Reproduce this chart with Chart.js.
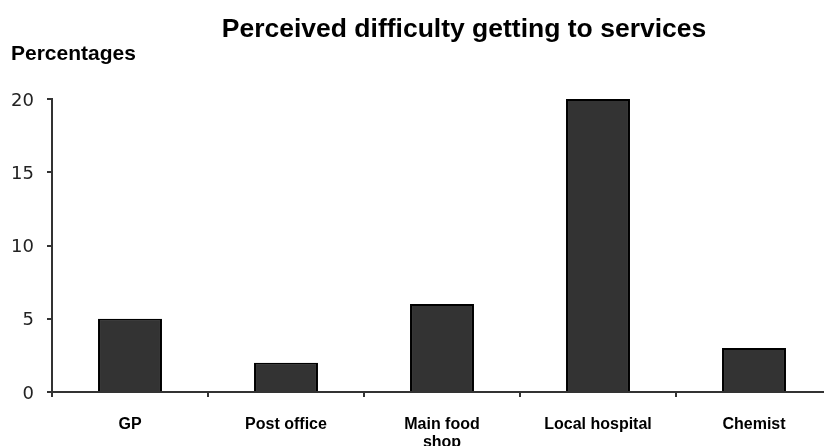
<!DOCTYPE html>
<html>
<head>
<meta charset="utf-8">
<script src="https://cdn.jsdelivr.net/npm/chart.js@4/dist/chart.umd.min.js"></script>
<style>
  html, body { margin: 0; padding: 0; background: #fff; overflow: hidden; }
  #wrap { width: 824px; height: 446px; overflow: hidden; }
  canvas { display: block; }
</style>
</head>
<body>
<div id="wrap"><canvas id="c" width="840" height="446"></canvas></div>
<script>
// Services and the share of people reporting difficulty reaching them
const services = ["GP", "Post office", ["Main food", "shop"], "Local hospital", "Chemist"];
const difficultyPct = [5, 2, 6, 20, 3];
const yTicks = [0, 5, 10, 15, 20];

const titleText = "Perceived difficulty getting to services";
const yAxisLabel = "Percentages";

// Heading text drawn on the canvas
const headings = {
  id: "headings",
  afterDraw(chart) {
    const ctx = chart.ctx;
    ctx.save();
    ctx.fillStyle = "#000";
    ctx.textBaseline = "alphabetic";
    ctx.font = "bold 26.5px 'Liberation Sans', Arial, sans-serif";
    ctx.textAlign = "center";
    ctx.fillText(titleText, 464, 37);
    ctx.font = "bold 21px 'Liberation Sans', Arial, sans-serif";
    ctx.textAlign = "left";
    ctx.fillText(yAxisLabel, 11, 60);
    ctx.restore();
  }
};

new Chart(document.getElementById("c"), {
  type: "bar",
  data: {
    labels: services,
    datasets: [{
      data: difficultyPct,
      backgroundColor: "#333333",
      borderColor: "#000000",
      borderWidth: 2,
      barPercentage: 0.41,
      categoryPercentage: 1.0
    }]
  },
  options: {
    responsive: false,
    animation: false,
    layout: { padding: { top: 99, right: 8, left: 0, bottom: 0 } },
    plugins: {
      legend: { display: false },
      title: { display: false },
      tooltip: { enabled: false }
    },
    scales: {
      x: {
        offset: true,
        grid: { display: true, offset: true, drawOnChartArea: false, tickLength: 5, color: "#333", lineWidth: 2 },
        border: { display: true, color: "#333", width: 2 },
        ticks: {
          autoSkip: false,
          maxRotation: 0,
          padding: 18,
          color: "#000",
          font: { family: "'Liberation Sans', Arial, sans-serif", size: 16, weight: "bold", lineHeight: 1.15 }
        },
        afterFit(scale) { scale.height = 54; }
      },
      y: {
        min: 0,
        max: 20,
        afterBuildTicks(scale) { scale.ticks = yTicks.map(v => ({ value: v })); },
        grid: { display: true, drawOnChartArea: false, tickLength: 5, color: "#333", lineWidth: 2 },
        border: { display: true, color: "#333", width: 2 },
        ticks: {
          padding: 13,
          labelOffset: 2,
          color: "#222",
          font: { family: "'DejaVu Sans', sans-serif", size: 18 }
        },
        afterFit(scale) { scale.width = 52; }
      }
    }
  },
  plugins: [headings]
});
</script>
</body>
</html>
